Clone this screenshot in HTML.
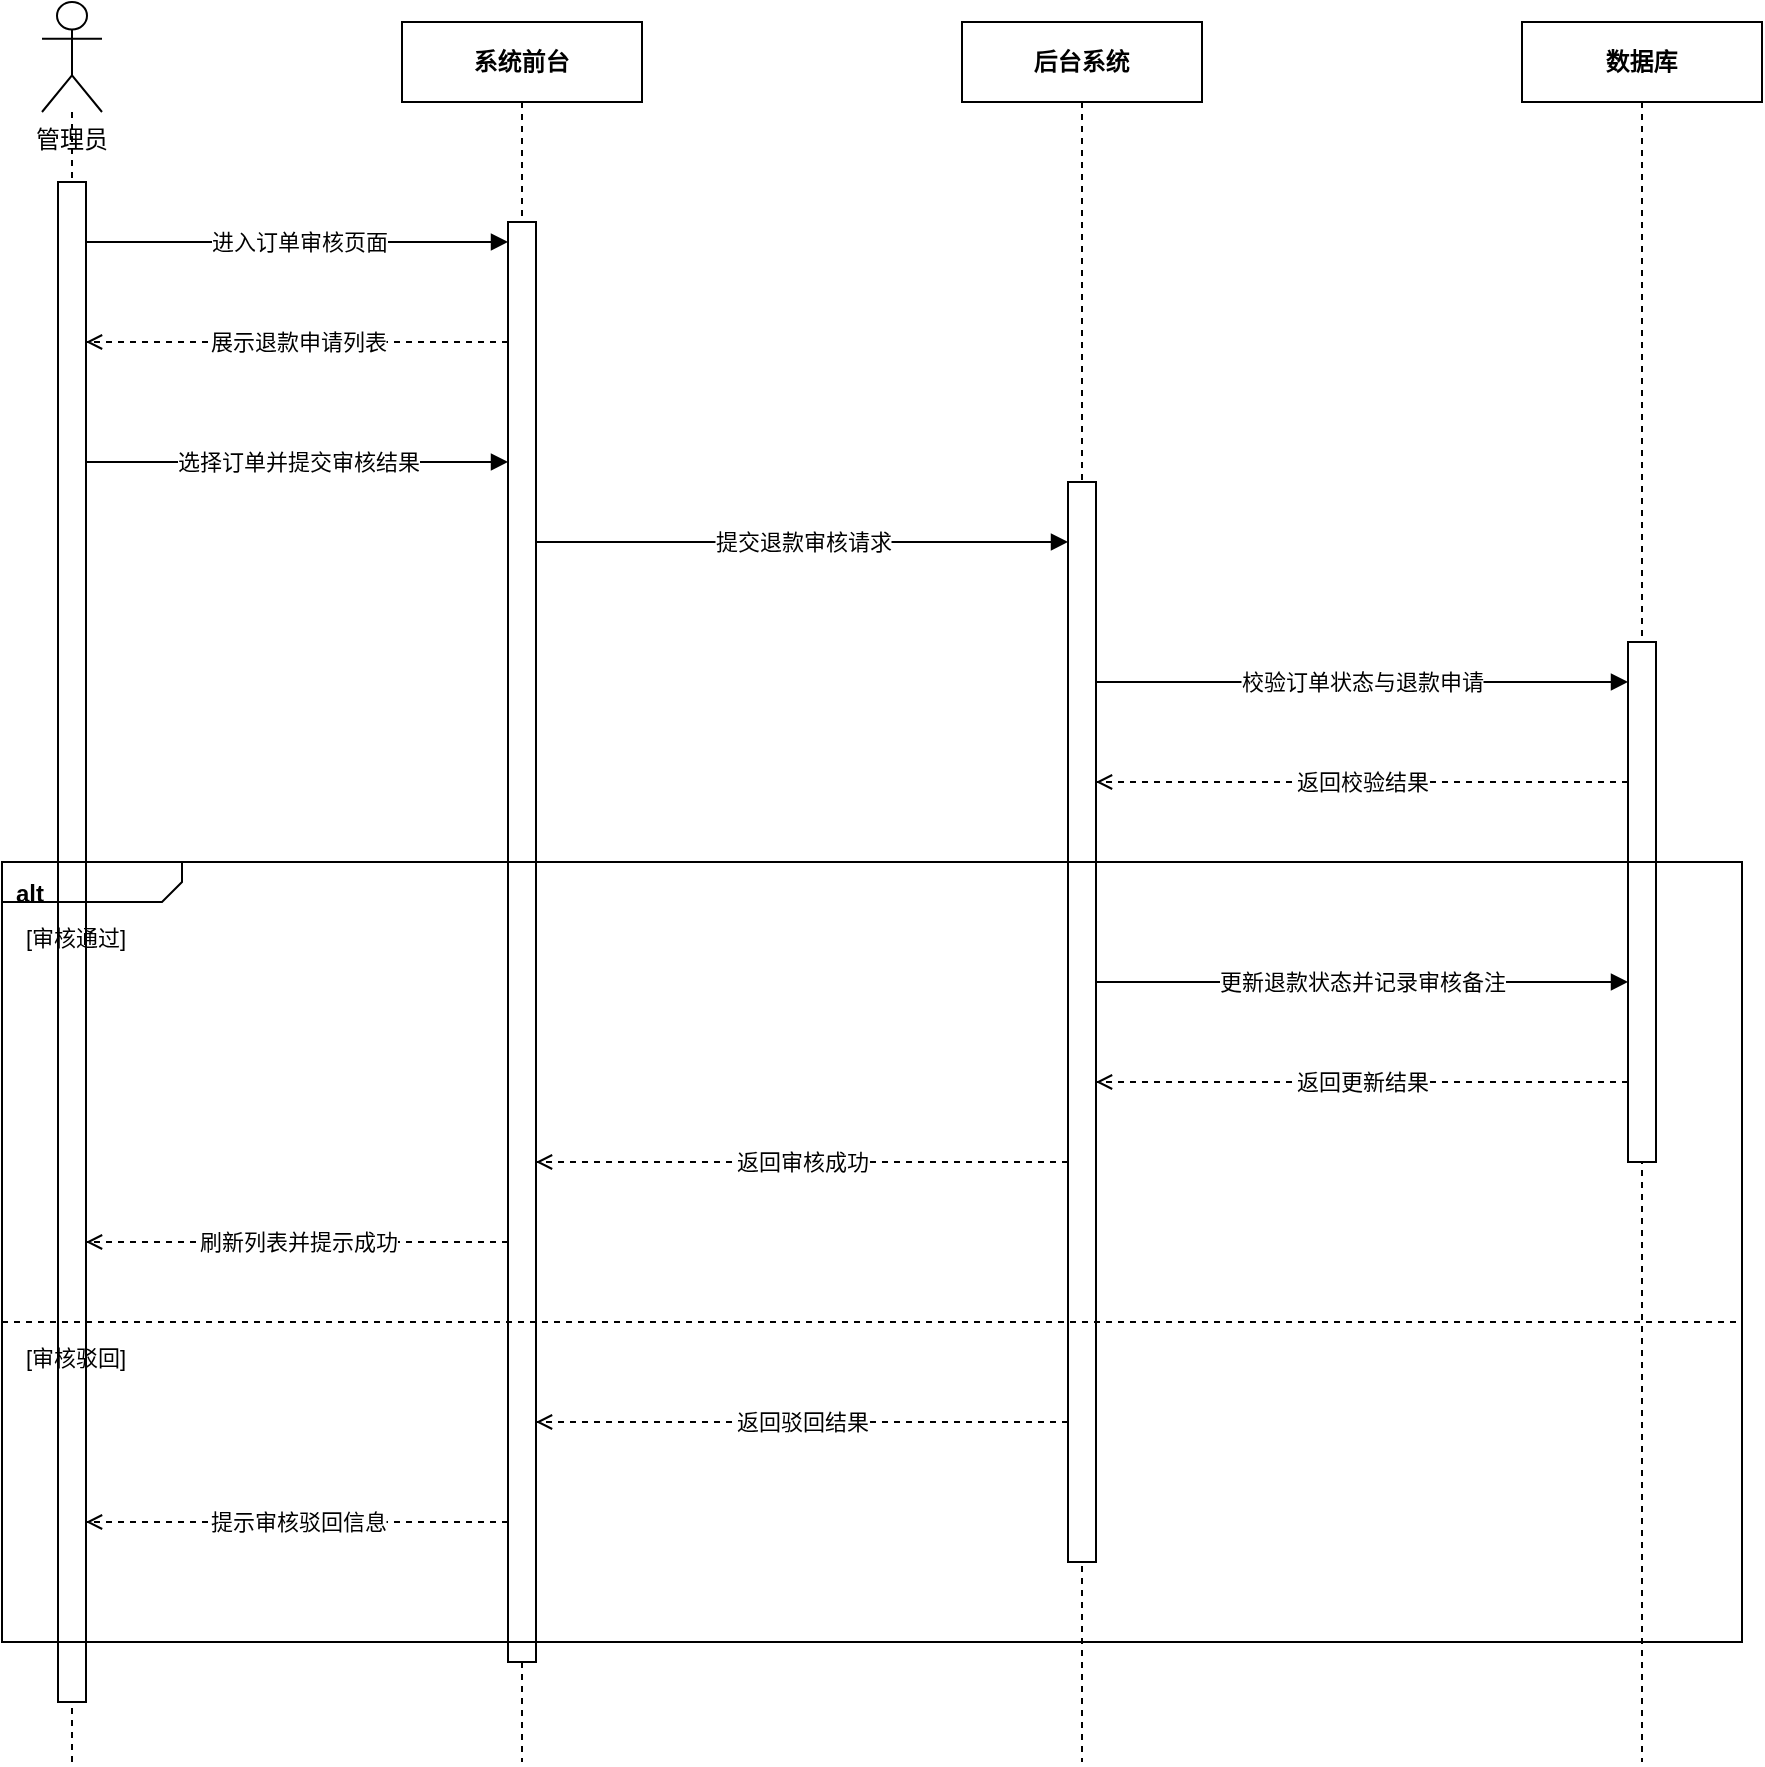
<!DOCTYPE html>
<html lang="zh-CN"><head><meta charset="utf-8"><style>
html,body{margin:0;padding:0;background:#fff;width:1765px;height:1767px;overflow:hidden}
svg{display:block;will-change:transform}
text{font-family:"Liberation Sans",sans-serif;fill:#000}
</style></head><body>
<svg width="1765" height="1767" viewBox="0 0 1765 1767">
<rect x="0" y="0" width="1765" height="1767" fill="#fff"/>

<line x1="72" y1="112" x2="72" y2="1762" stroke="#000" stroke-width="2" stroke-dasharray="6 6"/>
<line x1="522" y1="102" x2="522" y2="1762" stroke="#000" stroke-width="2" stroke-dasharray="6 6"/>
<line x1="1082" y1="102" x2="1082" y2="1762" stroke="#000" stroke-width="2" stroke-dasharray="6 6"/>
<line x1="1642" y1="102" x2="1642" y2="1762" stroke="#000" stroke-width="2" stroke-dasharray="6 6"/>
<rect x="402" y="22" width="240" height="80" fill="#fff" stroke="#000" stroke-width="2"/>
<text x="522" y="70" text-anchor="middle" font-size="24" font-weight="bold">系统前台</text>
<rect x="962" y="22" width="240" height="80" fill="#fff" stroke="#000" stroke-width="2"/>
<text x="1082" y="70" text-anchor="middle" font-size="24" font-weight="bold">后台系统</text>
<rect x="1522" y="22" width="240" height="80" fill="#fff" stroke="#000" stroke-width="2"/>
<text x="1642" y="70" text-anchor="middle" font-size="24" font-weight="bold">数据库</text>
<g fill="none" stroke="#000" stroke-width="2">
<ellipse cx="72" cy="15.75" rx="15" ry="13.75" fill="#fff"/>
<path d="M72 29.5 L72 75.33 M42 38.67 L102 38.67 M42 112 L72 75.33 L102 112"/>
</g>
<text x="72" y="148" text-anchor="middle" font-size="24">管理员</text>
<rect x="58" y="182" width="28" height="1520" fill="#fff" stroke="#000" stroke-width="2"/>
<rect x="508" y="222" width="28" height="1440" fill="#fff" stroke="#000" stroke-width="2"/>
<rect x="1068" y="482" width="28" height="1080" fill="#fff" stroke="#000" stroke-width="2"/>
<rect x="1628" y="642" width="28" height="520" fill="#fff" stroke="#000" stroke-width="2"/>
<path d="M2 862 H1742 V1642 H2 Z" fill="none" stroke="#000" stroke-width="2"/>
<path d="M2 902 H162 L182 882 V862" fill="none" stroke="#000" stroke-width="2"/>
<line x1="2" y1="1322" x2="1742" y2="1322" stroke="#000" stroke-width="2" stroke-dasharray="6 6"/>
<text x="16" y="901.5" font-size="24" font-weight="bold">alt</text>
<text x="26" y="946.0" font-size="22">[审核通过]</text>
<text x="26" y="1365.5" font-size="22">[审核驳回]</text>
<line x1="86" y1="242" x2="494" y2="242" stroke="#000" stroke-width="2"/>
<path d="M505.764 242 L491.764 234.85 L491.764 249.15 Z" fill="#000" stroke="#000" stroke-width="2"/>
<rect x="212.0" y="230" width="176" height="24" fill="#fff"/>
<text x="300" y="250.0" text-anchor="middle" font-size="22">进入订单审核页面</text>
<line x1="508" y1="342" x2="86" y2="342" stroke="#000" stroke-width="2" stroke-dasharray="6 6"/>
<path d="M102.236 335 L88.236 342 L102.236 349" fill="none" stroke="#000" stroke-width="2"/>
<rect x="210.5" y="330" width="176" height="24" fill="#fff"/>
<text x="298.5" y="350.0" text-anchor="middle" font-size="22">展示退款申请列表</text>
<line x1="86" y1="462" x2="494" y2="462" stroke="#000" stroke-width="2"/>
<path d="M505.764 462 L491.764 454.85 L491.764 469.15 Z" fill="#000" stroke="#000" stroke-width="2"/>
<rect x="178.0" y="450" width="242" height="24" fill="#fff"/>
<text x="299" y="470.0" text-anchor="middle" font-size="22">选择订单并提交审核结果</text>
<line x1="536" y1="542" x2="1054" y2="542" stroke="#000" stroke-width="2"/>
<path d="M1065.764 542 L1051.764 534.85 L1051.764 549.15 Z" fill="#000" stroke="#000" stroke-width="2"/>
<rect x="715.5" y="530" width="176" height="24" fill="#fff"/>
<text x="803.5" y="550.0" text-anchor="middle" font-size="22">提交退款审核请求</text>
<line x1="1096" y1="682" x2="1614" y2="682" stroke="#000" stroke-width="2"/>
<path d="M1625.764 682 L1611.764 674.85 L1611.764 689.15 Z" fill="#000" stroke="#000" stroke-width="2"/>
<rect x="1241.5" y="670" width="242" height="24" fill="#fff"/>
<text x="1362.5" y="690.0" text-anchor="middle" font-size="22">校验订单状态与退款申请</text>
<line x1="1628" y1="782" x2="1096" y2="782" stroke="#000" stroke-width="2" stroke-dasharray="6 6"/>
<path d="M1112.236 775 L1098.236 782 L1112.236 789" fill="none" stroke="#000" stroke-width="2"/>
<rect x="1297.0" y="770" width="132" height="24" fill="#fff"/>
<text x="1363" y="790.0" text-anchor="middle" font-size="22">返回校验结果</text>
<line x1="1096" y1="982" x2="1614" y2="982" stroke="#000" stroke-width="2"/>
<path d="M1625.764 982 L1611.764 974.85 L1611.764 989.15 Z" fill="#000" stroke="#000" stroke-width="2"/>
<rect x="1220.0" y="970" width="286" height="24" fill="#fff"/>
<text x="1363" y="990.0" text-anchor="middle" font-size="22">更新退款状态并记录审核备注</text>
<line x1="1628" y1="1082" x2="1096" y2="1082" stroke="#000" stroke-width="2" stroke-dasharray="6 6"/>
<path d="M1112.236 1075 L1098.236 1082 L1112.236 1089" fill="none" stroke="#000" stroke-width="2"/>
<rect x="1297.0" y="1070" width="132" height="24" fill="#fff"/>
<text x="1363" y="1090.0" text-anchor="middle" font-size="22">返回更新结果</text>
<line x1="1068" y1="1162" x2="536" y2="1162" stroke="#000" stroke-width="2" stroke-dasharray="6 6"/>
<path d="M552.236 1155 L538.236 1162 L552.236 1169" fill="none" stroke="#000" stroke-width="2"/>
<rect x="737.0" y="1150" width="132" height="24" fill="#fff"/>
<text x="803" y="1170.0" text-anchor="middle" font-size="22">返回审核成功</text>
<line x1="508" y1="1242" x2="86" y2="1242" stroke="#000" stroke-width="2" stroke-dasharray="6 6"/>
<path d="M102.236 1235 L88.236 1242 L102.236 1249" fill="none" stroke="#000" stroke-width="2"/>
<rect x="200.0" y="1230" width="198" height="24" fill="#fff"/>
<text x="299" y="1250.0" text-anchor="middle" font-size="22">刷新列表并提示成功</text>
<line x1="1068" y1="1422" x2="536" y2="1422" stroke="#000" stroke-width="2" stroke-dasharray="6 6"/>
<path d="M552.236 1415 L538.236 1422 L552.236 1429" fill="none" stroke="#000" stroke-width="2"/>
<rect x="737.0" y="1410" width="132" height="24" fill="#fff"/>
<text x="803" y="1430.0" text-anchor="middle" font-size="22">返回驳回结果</text>
<line x1="508" y1="1522" x2="86" y2="1522" stroke="#000" stroke-width="2" stroke-dasharray="6 6"/>
<path d="M102.236 1515 L88.236 1522 L102.236 1529" fill="none" stroke="#000" stroke-width="2"/>
<rect x="210.5" y="1510" width="176" height="24" fill="#fff"/>
<text x="298.5" y="1530.0" text-anchor="middle" font-size="22">提示审核驳回信息</text>
</svg></body></html>
